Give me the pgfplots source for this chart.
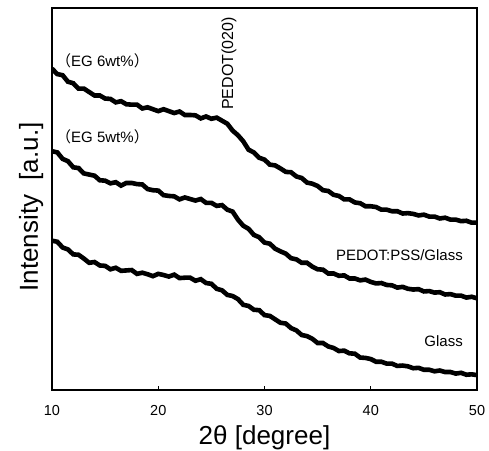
\documentclass[border=0pt]{standalone}
\usepackage{fontspec}
\setmainfont{Liberation Sans}
\newfontfamily\cjk{Noto Sans CJK JP}
\usepackage{pgfplots}
\pgfplotsset{compat=1.18}
\begin{document}
\begin{tikzpicture}
\useasboundingbox (0,0) rectangle (489pt,450pt);
\begin{axis}[
  at={(52pt,60pt)}, anchor=south west,
  width=425pt, height=382pt, scale only axis,
  xmin=10, xmax=50, ymin=0, ymax=100,
  xtick={10,20,30,40,50}, ytick=\empty,
  xtick pos=bottom, tick align=inside, major tick length=4pt,
  tick style={line width=1pt, black},
  axis line style={line width=1.2pt},
  /pgf/number format/assume math mode=true,
  xticklabel style={font=\fontsize{14.5}{16}\selectfont},
  xticklabel shift=12pt,
  xlabel={2θ [degree]},
  xlabel style={font=\fontsize{26}{30}\selectfont, at={(axis description cs:0.5,0)}, anchor=base, yshift=-54pt},
  ylabel={Intensity\ \ [a.u.]},
  ylabel style={font=\fontsize{26}{30}\selectfont, at={(axis description cs:-0.033,0.479)}, anchor=base, rotate=0},
]
\addplot[black, line width=4.6pt, line join=miter] coordinates {
(10.0,84.1)(10.5,82.7)(11.0,82.4)(11.5,80.7)(12.0,80.3)(12.5,78.9)(13.0,78.9)(13.5,78.0)(14.0,77.1)(14.5,77.1)
(15.0,76.3)(15.5,76.2)(16.0,75.3)(16.5,75.6)(17.0,74.8)(17.5,74.7)(18.0,74.7)(18.5,73.7)(19.0,74.0)(19.5,73.5)
(20.0,73.0)(20.5,73.5)(21.0,73.0)(21.5,72.5)(22.0,72.9)(22.5,72.0)(23.0,72.0)(23.5,71.9)(24.0,71.1)(24.5,71.6)
(25.0,71.0)(25.5,71.3)(26.0,70.5)(26.5,69.7)(27.0,67.9)(27.5,66.7)(28.0,65.1)(28.5,62.9)(29.0,62.2)(29.5,60.8)
(30.0,60.3)(30.5,59.0)(31.0,58.8)(31.5,58.0)(32.0,57.1)(32.5,57.0)(33.0,55.9)(33.5,55.5)(34.0,54.3)(34.5,54.0)
(35.0,53.4)(35.5,52.3)(36.0,52.1)(36.5,51.1)(37.0,50.8)(37.5,49.9)(38.0,49.9)(38.5,49.1)(39.0,48.9)(39.5,48.1)
(40.0,48.1)(40.5,47.9)(41.0,47.2)(41.5,47.2)(42.0,46.8)(42.5,46.8)(43.0,46.2)(43.5,46.3)(44.0,46.1)(44.5,45.7)
(45.0,45.9)(45.5,45.4)(46.0,45.4)(46.5,44.9)(47.0,45.1)(47.5,44.6)(48.0,44.6)(48.5,44.2)(49.0,44.3)(49.5,43.8)
(50.0,43.8)
};
\addplot[black, line width=4.6pt, line join=miter] coordinates {
(10.0,62.5)(10.5,62.2)(11.0,60.5)(11.5,59.9)(12.0,58.3)(12.5,58.1)(13.0,56.7)(13.5,56.4)(14.0,56.1)(14.5,54.9)
(15.0,54.8)(15.5,54.1)(16.0,54.4)(16.5,53.5)(17.0,54.2)(17.5,54.2)(18.0,53.9)(18.5,53.8)(19.0,52.6)(19.5,52.3)
(20.0,52.2)(20.5,51.0)(21.0,50.8)(21.5,50.7)(22.0,49.9)(22.5,50.4)(23.0,50.0)(23.5,49.6)(24.0,50.0)(24.5,49.0)
(25.0,49.0)(25.5,48.2)(26.0,48.4)(26.5,47.2)(27.0,46.7)(27.5,44.6)(28.0,43.0)(28.5,42.2)(29.0,40.6)(29.5,40.0)
(30.0,38.6)(30.5,38.3)(31.0,37.0)(31.5,36.3)(32.0,35.7)(32.5,34.5)(33.0,34.2)(33.5,33.3)(34.0,33.3)(34.5,32.3)
(35.0,31.6)(35.5,31.5)(36.0,30.5)(36.5,30.5)(37.0,29.9)(37.5,30.0)(38.0,29.2)(38.5,29.2)(39.0,28.7)(39.5,28.9)
(40.0,28.3)(40.5,27.9)(41.0,28.0)(41.5,27.5)(42.0,27.4)(42.5,26.8)(43.0,27.0)(43.5,26.5)(44.0,26.3)(44.5,26.4)
(45.0,25.8)(45.5,25.9)(46.0,25.5)(46.5,25.6)(47.0,25.0)(47.5,25.1)(48.0,24.7)(48.5,24.7)(49.0,24.2)(49.5,24.4)
(50.0,24.0)
};
\addplot[black, line width=4.6pt, line join=miter] coordinates {
(10.0,39.1)(10.5,38.8)(11.0,37.3)(11.5,36.8)(12.0,35.5)(12.5,35.4)(13.0,34.4)(13.5,33.3)(14.0,33.5)(14.5,32.6)
(15.0,32.5)(15.5,31.6)(16.0,32.0)(16.5,31.2)(17.0,31.3)(17.5,31.4)(18.0,30.4)(18.5,30.7)(19.0,30.3)(19.5,29.8)
(20.0,30.4)(20.5,30.1)(21.0,29.7)(21.5,30.2)(22.0,29.3)(22.5,29.4)(23.0,29.4)(23.5,28.6)(24.0,29.0)(24.5,28.0)
(25.0,27.8)(25.5,26.5)(26.0,26.1)(26.5,24.9)(27.0,24.6)(27.5,23.8)(28.0,22.3)(28.5,22.0)(29.0,21.0)(29.5,20.9)
(30.0,19.6)(30.5,19.4)(31.0,18.5)(31.5,17.6)(32.0,17.4)(32.5,16.2)(33.0,15.6)(33.5,14.4)(34.0,14.1)(34.5,13.4)
(35.0,12.3)(35.5,12.3)(36.0,11.4)(36.5,11.0)(37.0,10.2)(37.5,10.3)(38.0,9.6)(38.5,9.5)(39.0,8.5)(39.5,8.4)
(40.0,8.1)(40.5,7.4)(41.0,7.4)(41.5,6.9)(42.0,6.9)(42.5,6.3)(43.0,6.4)(43.5,6.2)(44.0,5.7)(44.5,5.8)
(45.0,5.3)(45.5,5.3)(46.0,4.9)(46.5,5.1)(47.0,4.7)(47.5,4.7)(48.0,4.3)(48.5,4.5)(49.0,4.0)(49.5,4.1)
(50.0,3.9)
};
\node[anchor=base west, inner sep=0pt, font=\fontsize{15}{17}\selectfont] at (axis cs:10.38,84.6) {{\cjk （}EG 6wt\%{\cjk ）}};
\node[anchor=base west, inner sep=0pt, font=\fontsize{15}{17}\selectfont] at (axis cs:10.38,64.9) {{\cjk （}EG 5wt\%{\cjk ）}};
\node[anchor=base west, inner sep=0pt, rotate=90, font=\fontsize{16}{18}\selectfont] at (axis cs:27.04,73.3) {PEDOT(020)};
\node[anchor=base east, inner sep=0pt, font=\fontsize{15}{17}\selectfont] at (axis cs:48.68,34.0) {PEDOT:PSS/Glass};
\node[anchor=base east, inner sep=0pt, font=\fontsize{15}{17}\selectfont] at (axis cs:48.68,11.3) {Glass};
\end{axis}
\end{tikzpicture}
\end{document}
